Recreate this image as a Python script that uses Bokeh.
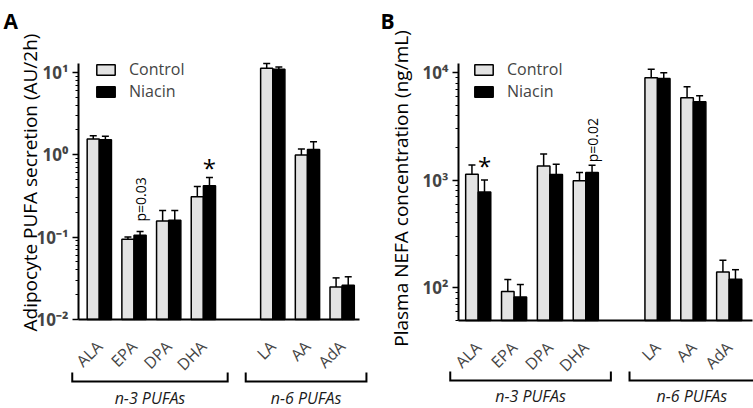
import math
from bokeh.plotting import figure
from bokeh.models import (ColumnDataSource, Range1d, FixedTicker, Whisker, TeeHead,
                          Legend, LegendItem, LinearScale)
from bokeh.layouts import row
from bokeh.embed import file_html
from bokeh.resources import INLINE
from bokeh.core.properties import value

# ---------------- data ----------------
categories = ["ALA", "EPA", "DPA", "DHA", "LA", "AA", "AdA"]
positions = [0, 1, 2, 3, 5, 6, 7]          # category slots (gap between families)
group_names = ["n-3 PUFAs", "n-6 PUFAs"]
group_members = [["ALA", "EPA", "DPA", "DHA"], ["LA", "AA", "AdA"]]
series_names = ["Control", "Niacin"]

# Panel A: adipocyte PUFA secretion (AU/2h)
a_ylabel = "Adipocyte PUFA secretion (AU/2h)"
a_control = [1.55, 0.094, 0.157, 0.31, 11.2, 0.99, 0.0248]
a_control_err = [1.70, 0.100, 0.21, 0.41, 12.8, 1.17, 0.032]
a_niacin = [1.52, 0.105, 0.160, 0.42, 10.9, 1.16, 0.026]
a_niacin_err = [1.67, 0.117, 0.21, 0.53, 11.6, 1.44, 0.033]
a_ticks = [0.01, 0.1, 1, 10]
a_tick_labels = ["10\u207b\u00b2", "10\u207b\u00b9", "10\u2070", "10\u00b9"]
a_notes = [("DHA", "*"), ("EPA", "p=0.03")]

# Panel B: plasma NEFA concentration (ng/mL)
b_ylabel = "Plasma NEFA concentration (ng/mL)"
b_control = [1138, 92, 1360, 991, 8980, 5850, 140]
b_control_err = [1389, 119, 1758, 1178, 10760, 7410, 180]
b_niacin = [778, 82, 1128, 1178, 8870, 5370, 120]
b_niacin_err = [1006, 107, 1409, 1380, 10000, 6110, 147]
b_ticks = [100, 1000, 10000]
b_tick_labels = ["10\u00b2", "10\u00b3", "10\u2074"]
b_notes = [("ALA", "*"), ("DHA", "p=0.02")]

FONT = "Open Sans"
CONTROL_FILL = "#e3e3e3"
OFF = 0.175
BW = 0.35
H = 408


def panel(letter, ylabel, ctrl, ctrl_err, nia, nia_err, ticks, tick_labels, notes,
          x_lo, x_hi, y_lo, y_hi, width, ax_left, ax_right, ax_top, ax_bottom,
          letter_x, ylab_x, ylab_y, leg_x, star_off, p_off,
          br_top, br_bot, grp_base, lab_standoff):
    # map the data ranges so that the axes land at the wanted pixels
    sx = (ax_right - ax_left) / (x_hi - x_lo)
    xr = (x_lo - ax_left / sx, x_hi + (width - ax_right) / sx)
    ly0, ly1 = math.log10(y_lo), math.log10(y_hi)
    dpx = (ax_bottom - ax_top) / (ly1 - ly0)
    yr = (10 ** (ly0 - (H - ax_bottom) / dpx), 10 ** (ly1 + ax_top / dpx))

    p = figure(width=width, height=H, y_axis_type="log", title=None,
               x_range=Range1d(*xr), y_range=Range1d(*yr),
               output_backend="svg", toolbar_location=None,
               min_border_left=0, min_border_right=0, min_border_top=0,
               min_border_bottom=0)
    # pixel helper ranges for decorations (y measured downward as negative)
    p.extra_x_ranges = {"px": Range1d(0, width)}
    p.extra_x_scales = {"px": LinearScale()}
    p.extra_y_ranges = {"px": Range1d(-H, 0)}
    p.extra_y_scales = {"px": LinearScale()}
    p.outline_line_color = None
    p.xgrid.visible = False
    p.ygrid.visible = False

    xc = [x - OFF for x in positions]
    xn = [x + OFF for x in positions]
    sc = ColumnDataSource(dict(x=xc, top=ctrl, err=ctrl_err))
    sn = ColumnDataSource(dict(x=xn, top=nia, err=nia_err))
    rc = p.vbar(x="x", top="top", bottom=y_lo, width=BW, source=sc,
                fill_color=CONTROL_FILL, line_color="black", line_width=1.5)
    rn = p.vbar(x="x", top="top", bottom=y_lo, width=BW, source=sn,
                fill_color="black", line_color="black", line_width=1.5)
    for s in (sc, sn):
        p.add_layout(Whisker(base="x", lower="top", upper="err", source=s,
                             dimension="height", line_color="black", line_width=1.5,
                             lower_head=None,
                             upper_head=TeeHead(size=7, line_color="black",
                                                line_width=1.5)))

    # y axis, drawn at the left end of the category axis
    ya = p.yaxis[0]
    ya.fixed_location = x_lo
    ya.bounds = (y_lo, y_hi)
    lo_e = math.floor(ly0)
    hi_e = math.ceil(ly1)
    minor = [m * 10 ** e for e in range(lo_e, hi_e + 1) for m in range(2, 10)
             if y_lo < m * 10 ** e < y_hi]
    ya.ticker = FixedTicker(ticks=ticks, minor_ticks=minor)
    ya.major_label_overrides = {t: l for t, l in zip(ticks, tick_labels)}
    ya.major_label_text_font = FONT
    ya.major_label_text_font_size = "17px"
    ya.major_label_text_font_style = "bold"
    ya.major_label_standoff = 4
    ya.axis_line_width = 2
    ya.major_tick_in = 0
    ya.major_tick_out = 6
    ya.minor_tick_in = 0
    ya.minor_tick_out = 3
    ya.major_tick_line_width = 1.5
    ya.minor_tick_line_width = 1

    # x axis along the bar baseline
    xa = p.xaxis[0]
    xa.fixed_location = y_lo
    xa.bounds = (x_lo, x_hi)
    xa.ticker = FixedTicker(ticks=positions)
    xa.major_label_overrides = {x: c for x, c in zip(positions, categories)}
    xa.major_label_orientation = math.pi / 4
    xa.major_label_text_font = FONT
    xa.major_label_text_font_size = "16px"
    xa.major_label_standoff = lab_standoff
    xa.axis_line_width = 2
    xa.major_tick_line_color = None
    xa.minor_tick_line_color = None

    # y-axis title
    p.text(x=[ylab_x], y=[-ylab_y], text=[ylabel], x_range_name="px", y_range_name="px",
           text_font=value(FONT), text_font_size="19px", text_align="center",
           text_baseline="middle", angle=math.pi / 2, text_color="black")
    # panel letter
    p.text(x=[letter_x], y=[-20], text=[letter], x_range_name="px", y_range_name="px",
           text_font=value(FONT), text_font_size="21px", text_font_style="bold",
           text_align="left", text_baseline="alphabetic", text_color="black")

    # significance notes
    for cat, txt in notes:
        i = categories.index(cat)
        x = positions[i] + OFF
        y = nia_err[i]
        if txt == "*":
            p.text(x=[x], y=[y], text=[txt], text_font=value(FONT),
                   text_font_size="24px", text_align="center",
                   text_baseline="alphabetic", y_offset=star_off, text_color="black")
        else:
            p.text(x=[x], y=[y], text=[txt], text_font=value(FONT),
                   text_font_size="14px", text_align="left",
                   text_baseline="middle", angle=math.pi / 2, y_offset=-p_off,
                   text_color="black")

    leg = Legend(items=[LegendItem(label=series_names[0], renderers=[rc]),
                        LegendItem(label=series_names[1], renderers=[rn])],
                 location=(leg_x, H - (ax_top - 1) - 40),
                 glyph_width=23, glyph_height=13, label_standoff=12,
                 label_text_font=FONT, label_text_font_size="16px",
                 padding=0, margin=0, spacing=-2,
                 border_line_color=None, background_fill_alpha=0)
    p.add_layout(leg)

    # family brackets with their names
    xs, ys, tx, tl = [], [], [], []
    for name, members in zip(group_names, group_members):
        pos = [positions[categories.index(m)] for m in members]
        lo, hi = min(pos) - 0.78, max(pos) + 0.7
        xs.append([lo, lo, hi, hi])
        ys.append([-br_top, -br_bot, -br_bot, -br_top])
        tx.append((lo + hi) / 2)
        tl.append(name)
    p.multi_line(xs=xs, ys=ys, y_range_name="px", line_color="black", line_width=2,
                 line_join="miter")
    p.text(x=tx, y=[-grp_base] * len(tx), text=tl, y_range_name="px",
           text_font=value(FONT), text_font_size="16px", text_font_style="italic",
           text_align="center", text_baseline="middle", text_color="#1a1a1a")
    return p


pA = panel("A", a_ylabel, a_control, a_control_err, a_niacin, a_niacin_err,
           a_ticks, a_tick_labels, a_notes,
           x_lo=-0.6, x_hi=7.5, y_lo=0.01, y_hi=12.8, width=380,
           ax_left=78, ax_right=359, ax_top=63, ax_bottom=319,
           letter_x=3, ylab_x=29, ylab_y=182, leg_x=94, star_off=-10, p_off=10,
           br_top=372, br_bot=381, grp_base=397, lab_standoff=18)
pB = panel("B", b_ylabel, b_control, b_control_err, b_niacin, b_niacin_err,
           b_ticks, b_tick_labels, b_notes,
           x_lo=-0.55, x_hi=7.65, y_lo=49.5, y_hi=12200, width=373,
           ax_left=78, ax_right=372, ax_top=63, ax_bottom=320,
           letter_x=0, ylab_x=20.5, ylab_y=188, leg_x=92, star_off=-14, p_off=3,
           br_top=371, br_bot=380, grp_base=395, lab_standoff=18)

layout = row(pA, pB)
open("out.html", "w").write(file_html(layout, INLINE))
